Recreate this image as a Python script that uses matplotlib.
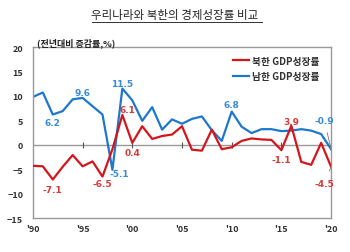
import matplotlib.pyplot as plt
from matplotlib.lines import Line2D
import numpy as np

plt.rcParams['font.family'] = ['Noto Sans CJK KR', 'DejaVu Sans']

years = list(range(1990, 2021))
# 북한 GDP 성장률 (%)
north = [-4.3, -4.4, -7.1, -4.5, -2.1, -4.4, -3.4, -6.5, -0.9, 6.1,
         0.4, 3.8, 1.2, 1.8, 2.1, 3.8, -1.0, -1.2, 3.1, -0.9,
         -0.5, 0.8, 1.3, 1.1, 1.0, -1.1, 3.9, -3.5, -4.1, 0.4, -4.5]
# 남한 GDP 성장률 (%)
south = [9.8, 10.7, 6.2, 6.9, 9.3, 9.6, 7.9, 6.2, -5.1, 11.5,
         9.1, 4.9, 7.7, 3.1, 5.2, 4.3, 5.3, 5.8, 3.0, 0.8,
         6.8, 3.7, 2.4, 3.2, 3.2, 2.8, 2.9, 3.2, 2.9, 2.2, -0.9]

tick_years = [1990, 1995, 2000, 2005, 2010, 2015, 2020]
tick_labels = ["'90", "'95", "'00", "'05", "'10", "'15", "'20"]
y_ticks = [-15, -10, -5, 0, 5, 10, 15, 20]

red = '#d4161c'
blue = '#1c78cc'
red_txt = '#d63a3a'
blue_txt = '#3a8ad8'

fig = plt.figure(figsize=(3.5, 2.53), dpi=100)
ax = fig.add_axes([0.094, 0.134, 0.852, 0.676])

ax.axhline(0, color='#999999', lw=1.0, zorder=1)
ax.scatter(tick_years[1:-1], [0] * 5, marker='|', s=25, color='#555555', lw=0.8, zorder=1)

ax.plot(years, north, color=red, lw=1.6, label='북한 GDP성장률', zorder=3)
ax.plot(years, south, color=blue, lw=1.6, label='남한 GDP성장률', zorder=2)

ax.set_xlim(1990, 2020)
ax.set_ylim(-15, 20)
ax.set_xticks(tick_years)
ax.set_xticklabels(tick_labels)
ax.set_yticks(y_ticks)
ax.tick_params(length=0, labelsize=6.5)
for lab in ax.get_xticklabels() + ax.get_yticklabels():
    lab.set_fontweight('bold')
    lab.set_color('#333333')
ax.tick_params(axis='y', pad=7)
ax.tick_params(axis='x', pad=4)
for s in ax.spines.values():
    s.set_color('#999999')
    s.set_linewidth(1.0)

def lab(yr, vals, txt, dx, dy, color):
    i = years.index(yr)
    ax.annotate(txt, (yr, vals[i]), xytext=(dx, dy), textcoords='offset points',
                ha='center', va='center', fontsize=6.5, fontweight='bold',
                color=color, family=['DejaVu Sans'])

lab(1992, south, '6.2', 0, -6, blue_txt)
lab(1995, south, '9.6', 0, 4, blue_txt)
lab(1999, south, '11.5', 0, 4, blue_txt)
lab(1998, south, '-5.1', 5, -3, blue_txt)
lab(2010, south, '6.8', 0, 5, blue_txt)
lab(1992, north, '-7.1', 0, -7, red_txt)
lab(1997, north, '-6.5', 0, -5, red_txt)
lab(1999, north, '6.1', 4, 4, red_txt)
lab(2000, north, '0.4', 0, -7, red_txt)
lab(2015, north, '-1.1', 0, -7, red_txt)
lab(2016, north, '3.9', 0, 3, red_txt)

ax.annotate('-0.9', (2020, -0.9), xytext=(-5, 21), textcoords='offset points',
            ha='center', va='center', fontsize=6.5, fontweight='bold', color=blue_txt,
            family=['DejaVu Sans'],
            arrowprops=dict(arrowstyle='-', color='#777777', lw=0.6, shrinkA=4, shrinkB=0))
ax.annotate('-4.5', (2020, -4.5), xytext=(-5, -12), textcoords='offset points',
            ha='center', va='center', fontsize=6.5, fontweight='bold', color=red_txt,
            family=['DejaVu Sans'],
            arrowprops=dict(arrowstyle='-', color='#777777', lw=0.6, shrinkA=4, shrinkB=0))

leg = ax.legend(loc='upper right', bbox_to_anchor=(0.99, 1.0), frameon=False,
                fontsize=7, handlelength=1.6, handletextpad=0.3, labelspacing=0.55)
for t in leg.get_texts():
    t.set_color('#333333')
    t.set_fontweight('bold')

fig.text(0.5, 0.94, '우리나라와 북한의 경제성장률 비교', ha='center', va='center',
         fontsize=8.3, color='#222222')
fig.add_artist(Line2D([0.263, 0.749], [0.91, 0.91], color='#333333', lw=0.7,
                      transform=fig.transFigure))
fig.text(0.105, 0.83, '(전년대비 증감률,%)', ha='left', va='center',
         fontsize=6.5, fontweight='bold', color='#222222')

fig.savefig('out.png', dpi=100)
